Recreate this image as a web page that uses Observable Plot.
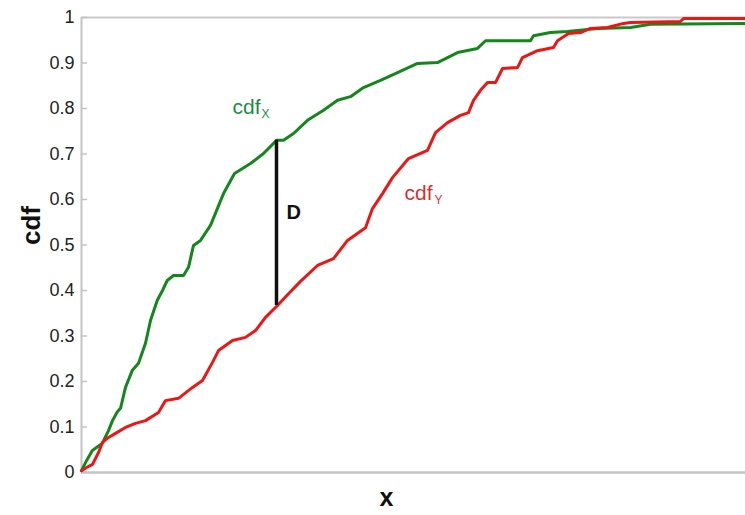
<!DOCTYPE html>
<html>
<head>
<meta charset="utf-8">
<script src="https://cdn.jsdelivr.net/npm/d3@7"></script>
<script src="https://cdn.jsdelivr.net/npm/@observablehq/plot@0.6"></script>
<style>
  html, body { margin: 0; padding: 0; background: #fff; }
</style>
</head>
<body>
<div id="chart"></div>
<script>
// Y axis ticks
const yTicks = [0, 0.1, 0.2, 0.3, 0.4, 0.5, 0.6, 0.7, 0.8, 0.9, 1];
const yTickLabels = ["0", "0.1", "0.2", "0.3", "0.4", "0.5", "0.6", "0.7", "0.8", "0.9", "1"];

// cdf_X (green) – x in arbitrary units (0..664), y = cumulative probability
const greenX = [0, 5, 10.7, 15, 20.7, 27, 31, 35.7, 39, 44, 50.7, 57, 64, 69, 75.7, 81, 85.7, 92, 102, 107, 112, 119, 129, 142, 153, 169, 182, 195, 202, 212, 226, 242, 256, 269, 282, 299, 316, 336, 356, 376, 396, 404, 449, 452, 469, 486, 516, 549, 569, 664];
const greenY = [0.004, 0.026, 0.048, 0.055, 0.064, 0.092, 0.114, 0.133, 0.141, 0.187, 0.224, 0.240, 0.284, 0.334, 0.378, 0.400, 0.422, 0.433, 0.433, 0.451, 0.499, 0.510, 0.543, 0.613, 0.657, 0.679, 0.701, 0.730, 0.730, 0.745, 0.774, 0.796, 0.818, 0.826, 0.846, 0.862, 0.879, 0.899, 0.901, 0.923, 0.932, 0.949, 0.949, 0.960, 0.967, 0.969, 0.976, 0.978, 0.985, 0.987];

// cdf_Y (red)
const redX = [0, 5, 11, 17, 21, 27, 34, 44, 54, 64, 77, 84, 97, 111, 121, 131, 137, 151, 164, 174, 184, 196, 207, 219, 236, 252, 266, 284, 291, 301, 311, 327, 346, 354, 366, 379, 387, 392, 399, 406, 414, 421, 436, 441, 456, 472, 476, 487, 499, 509, 526, 542, 549, 599, 602, 664];
const redY = [0.004, 0.011, 0.018, 0.044, 0.066, 0.077, 0.086, 0.099, 0.108, 0.114, 0.132, 0.158, 0.163, 0.187, 0.202, 0.242, 0.268, 0.290, 0.297, 0.312, 0.341, 0.367, 0.393, 0.420, 0.455, 0.470, 0.510, 0.538, 0.580, 0.613, 0.648, 0.690, 0.708, 0.747, 0.769, 0.785, 0.791, 0.818, 0.840, 0.857, 0.857, 0.888, 0.890, 0.912, 0.927, 0.934, 0.949, 0.965, 0.967, 0.976, 0.978, 0.987, 0.989, 0.991, 0.998, 0.998];

// KS statistic D
const dX = 195;
const dLow = 0.367;
const dHigh = 0.730;

// Annotations
const labelTexts = ["cdf", "X", "cdf", "Y", "D"];
const labelX = [151, 180, 323, 353, 205];
const labelY = [0.789, 0.780, 0.598, 0.591, 0.558];

const green = greenX.map((x, i) => ({x, y: greenY[i]}));
const red = redX.map((x, i) => ({x, y: redY[i]}));

const W = 745, H = 515, ML = 81, MR = 0, MT = 17, MB = 43;
const font = "'Liberation Sans', Arial, Helvetica, sans-serif";

const chart = Plot.plot({
  width: W, height: H,
  marginLeft: ML, marginRight: MR, marginTop: MT, marginBottom: MB,
  style: {fontFamily: font, background: "white", overflow: "visible"},
  x: {domain: [0, 664], axis: null},
  y: {domain: [0, 1], axis: null},
  marks: [
    Plot.ruleY([1], {stroke: "#c9c9c9", strokeWidth: 2}),
    Plot.ruleY([0], {stroke: "#c4c4c4", strokeWidth: 2.5}),
    Plot.ruleX([0], {stroke: "#c4c4c4", strokeWidth: 2}),
    Plot.ruleY(yTicks, {y: d => d, stroke: "#c4c4c4", strokeWidth: 1.5, insetRight: W - ML - MR - 6}),
    Plot.axisY({ticks: yTicks, tickSize: 0, tickPadding: 7, tickFormat: (d) => yTickLabels[yTicks.indexOf(d)], fontSize: 18, color: "#222", label: null}),
    Plot.line(green, {x: "x", y: "y", stroke: "#14861c", strokeWidth: 3}),
    Plot.line(red, {x: "x", y: "y", stroke: "#ee1515", strokeWidth: 3}),
    Plot.ruleX([dX], {y1: dLow, y2: dHigh, stroke: "#111", strokeWidth: 3.5}),
    Plot.text([0], {x: labelX[0], y: labelY[0], text: () => labelTexts[0], fill: "#1e8c46", fontSize: 21, textAnchor: "start", lineAnchor: "bottom"}),
    Plot.text([0], {x: labelX[1], y: labelY[1], text: () => labelTexts[1], fill: "#1e8c46", fontSize: 12, textAnchor: "start", lineAnchor: "bottom"}),
    Plot.text([0], {x: labelX[2], y: labelY[2], text: () => labelTexts[2], fill: "#d03434", fontSize: 21, textAnchor: "start", lineAnchor: "bottom"}),
    Plot.text([0], {x: labelX[3], y: labelY[3], text: () => labelTexts[3], fill: "#d03434", fontSize: 12, textAnchor: "start", lineAnchor: "bottom"}),
    Plot.text([0], {x: labelX[4], y: labelY[4], text: () => labelTexts[4], fill: "#111", fontSize: 20, fontWeight: "bold", textAnchor: "start", lineAnchor: "bottom"}),
    Plot.text(["cdf"], {frameAnchor: "left", dx: -50, rotate: -90, text: d => d, fontSize: 26, fontWeight: "bold", fill: "#111"}),
    Plot.text(["x"], {frameAnchor: "bottom", dx: -27, dy: 33, text: d => d, fontSize: 25, fontWeight: "bold", fill: "#111"})
  ]
});

document.getElementById("chart").appendChild(chart);
</script>
</body>
</html>
